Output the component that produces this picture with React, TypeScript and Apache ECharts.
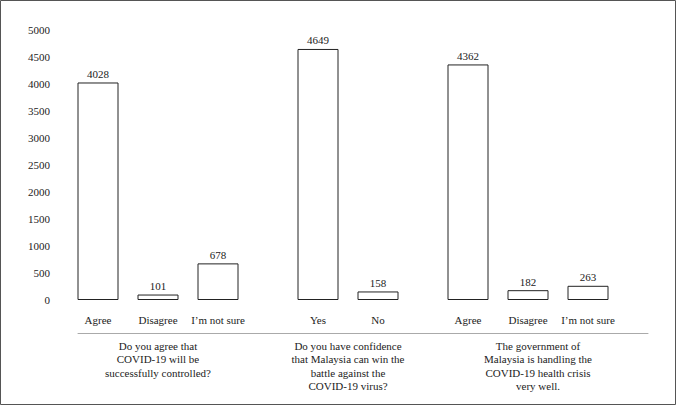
import React, { useEffect, useRef } from "react";
import * as echarts from "echarts";

// ---- data ----
const groupQuestions = [
  "Do you agree that\nCOVID-19 will be\nsuccessfully controlled?",
  "Do you have confidence\nthat Malaysia can win the\nbattle against the\nCOVID-19 virus?",
  "The government of\nMalaysia is handling the\nCOVID-19 health crisis\nvery well.",
];
const groupAnswers = [
  ["Agree", "Disagree", "I\u2019m not sure"],
  ["Yes", "No"],
  ["Agree", "Disagree", "I\u2019m not sure"],
];
const groupValues = [
  [4028, 101, 678],
  [4649, 158],
  [4362, 182, 263],
];
const yTicks = { min: 0, max: 5000, interval: 500 };

// ---- slot layout on a fine category axis ----
const SLOT_COUNT = 58;
const groupStart = [2, 24, 39];
const barStep = 6;
const groupLabelSlot = [8, 27, 46];

const slots: string[] = Array.from({ length: SLOT_COUNT }, (_, i) => String(i));
const slotLabel: Record<number, string> = {};
const slotValue: (number | null)[] = Array(SLOT_COUNT).fill(null);
groupAnswers.forEach((answers, g) => {
  answers.forEach((a, j) => {
    const idx = groupStart[g] + j * barStep;
    slotLabel[idx] = a;
    slotValue[idx] = groupValues[g][j];
  });
});
const groupSlotLabel: Record<number, string> = {};
groupQuestions.forEach((q, g) => {
  groupSlotLabel[groupLabelSlot[g]] = q;
});

const FONT = "'Liberation Serif', 'Times New Roman', serif";
const TEXT = "#222";

export default function App() {
  const ref = useRef<HTMLDivElement>(null);
  useEffect(() => {
    document.body.style.margin = "0";
    const chart = echarts.init(ref.current!, undefined, { renderer: "svg" });
    chart.setOption({
      animation: false,
      backgroundColor: "#fff",
      grid: { left: 78, right: 28, top: 30, bottom: 105, containLabel: false },
      xAxis: [
        {
          type: "category",
          data: slots,
          boundaryGap: false,
          axisLine: { show: false },
          axisTick: { show: false },
          splitLine: { show: false },
          axisLabel: {
            interval: 0,
            margin: 14,
            fontFamily: FONT,
            fontSize: 11,
            color: TEXT,
            formatter: (v: string) => slotLabel[Number(v)] ?? "",
          },
        },
        {
          type: "category",
          data: slots,
          position: "bottom",
          offset: 33,
          boundaryGap: false,
          axisLine: { show: true, lineStyle: { color: "#aaa", width: 1 } },
          axisTick: { show: false },
          splitLine: { show: false },
          axisLabel: {
            interval: 0,
            margin: 6,
            fontFamily: FONT,
            fontSize: 11,
            lineHeight: 13.4,
            color: TEXT,
            align: "center",
            formatter: (v: string) => groupSlotLabel[Number(v)] ?? "",
          },
        },
      ],
      yAxis: {
        type: "value",
        min: yTicks.min,
        max: yTicks.max,
        interval: yTicks.interval,
        axisLine: { show: false },
        axisTick: { show: false },
        splitLine: { show: false },
        axisLabel: {
          margin: 28,
          fontFamily: FONT,
          fontSize: 11,
          color: TEXT,
          formatter: (v: number) => String(v),
        },
      },
      series: [
        {
          type: "bar",
          xAxisIndex: 0,
          data: slotValue,
          barWidth: 41,
          itemStyle: { color: "#fff", borderColor: "#222", borderWidth: 1 },
          label: {
            show: true,
            position: "top",
            distance: 3,
            fontFamily: FONT,
            fontSize: 11,
            color: TEXT,
          },
        },
      ],
      graphic: [
        {
          type: "rect",
          shape: { x: 0.5, y: 0.5, width: 675, height: 404 },
          style: { fill: "none", stroke: "#555", lineWidth: 1 },
          silent: true,
        },
      ],
    });
    return () => chart.dispose();
  }, []);
  return <div ref={ref} style={{ width: 676, height: 405 }} />;
}
